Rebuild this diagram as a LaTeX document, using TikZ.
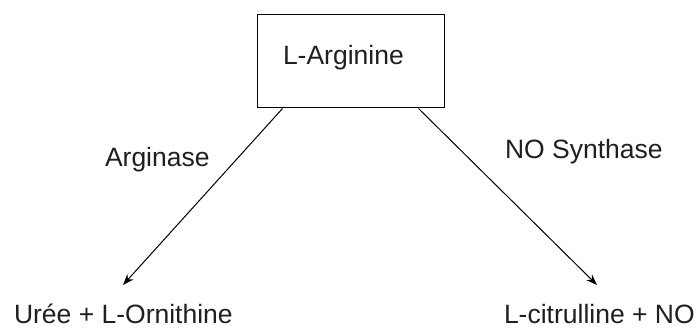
\documentclass[tikz,border=0pt]{standalone}
\usepackage{fontspec}
\setmainfont{Liberation Sans}
\usetikzlibrary{arrows.meta,calc}
\begin{document}
\begin{tikzpicture}[x=1pt,y=-1pt,
  lbl/.style={inner sep=0pt,outer sep=0pt,text=black!88,font=\fontsize{26.5}{32}\selectfont},
  boxstyle/.style={draw=black,line width=1pt,minimum width=187pt,minimum height=93pt,inner sep=0pt},
  arr/.style={draw=black,line width=1pt,-{Stealth[length=11pt,width=8pt]}}]
\useasboundingbox (0,0) rectangle (697,329);
\node[boxstyle] (arg) at (350.5,61.5) {};
\node[lbl,anchor=base west] (argtxt) at (283,65) {L-Arginine};
\node[lbl,anchor=base west] (argase) at (105,167) {Arginase};
\node[lbl,anchor=base west] (nos) at (505,158) {NO Synthase};
\node[lbl,anchor=base west] (ure) at (14,323) {Urée + L-Ornithine};
\node[lbl,anchor=base west] (cit) at (504,323) {L-citrulline + NO};
\coordinate (sL) at ($(arg.south west)+(26,0)$);
\coordinate (sR) at ($(arg.south east)+(-26,0)$);
\coordinate (tL) at (123,285);
\coordinate (tR) at (597,285);
\draw[arr] (sL) -- (tL);
\draw[arr] (sR) -- (tR);
\end{tikzpicture}
\end{document}
